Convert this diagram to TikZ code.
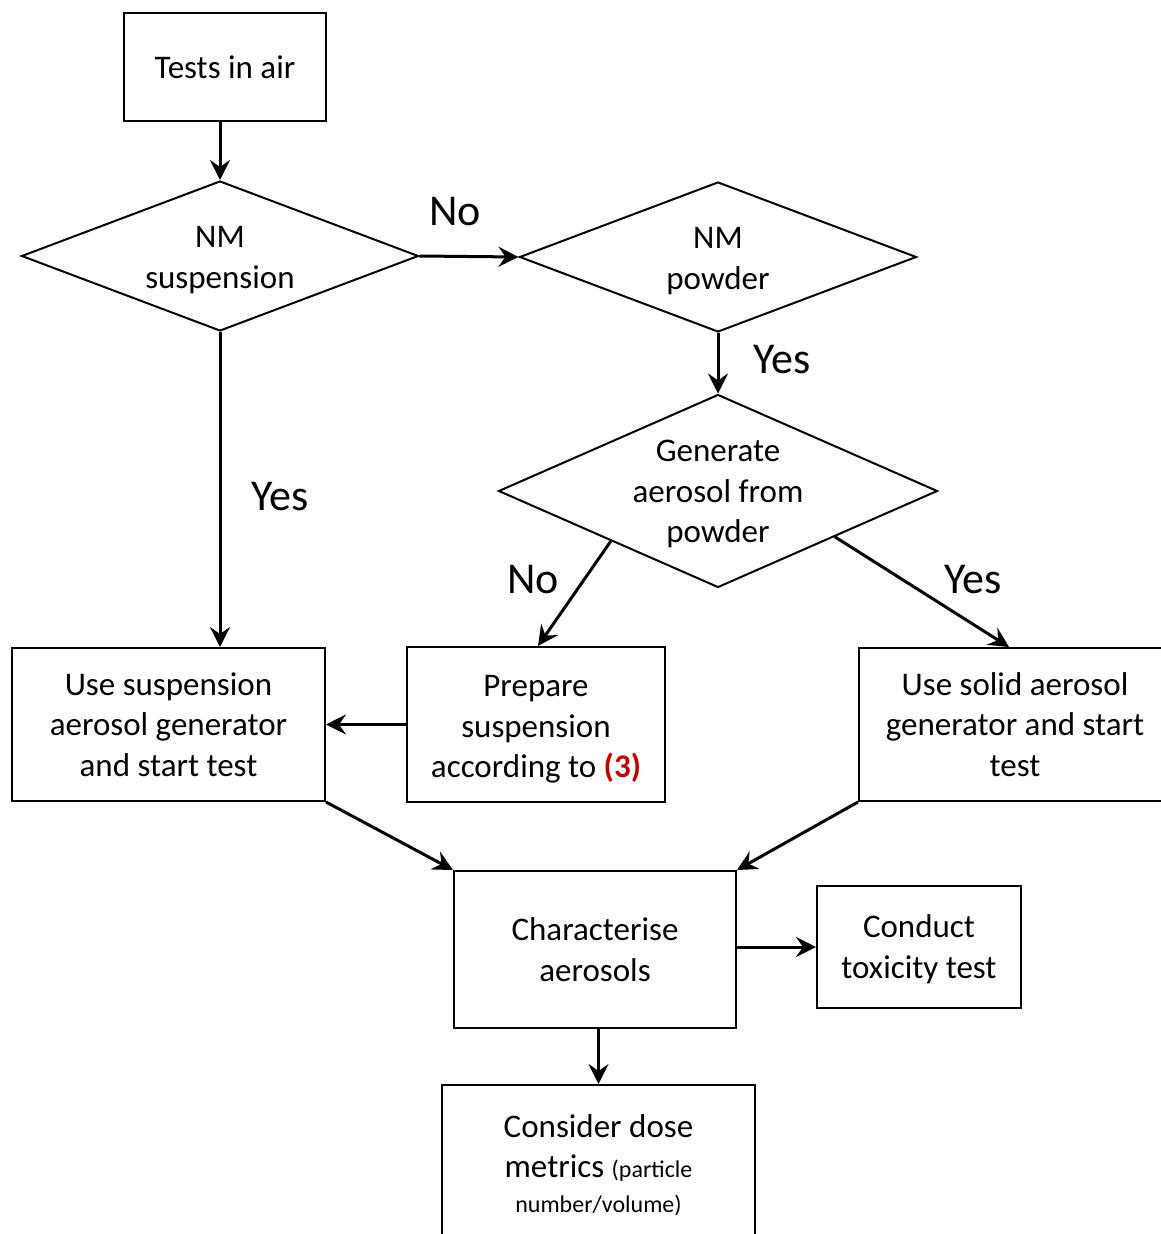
\documentclass[tikz,border=0pt]{standalone}
\usepackage{fontspec}
\setmainfont{Carlito}
\usetikzlibrary{shapes.geometric,arrows.meta,calc}
\definecolor{refred}{RGB}{192,0,0}
\tikzset{
  txt/.style={align=center, font=\fontsize{33}{40.5}\selectfont, inner sep=0pt},
  lbl/.style={font=\fontsize{44}{50}\selectfont, inner sep=0pt},
  boxnode/.style={draw, line width=2pt, rectangle, inner sep=0pt, align=center, font=\fontsize{33}{40.5}\selectfont},
  dia/.style={draw, line width=2pt, diamond, inner sep=0pt},
  arr/.style={line width=3pt, -{Stealth[length=20pt,width=20pt,inset=7pt]}},
}
\begin{document}
\begin{tikzpicture}[x=1pt,y=-1pt]
\useasboundingbox (0,0) rectangle (1161,1234);
\clip (0,0) rectangle (1161,1234);
\fill[white] (0,0) rectangle (1161,1234);
% boxes
\node[boxnode, minimum width=202pt, minimum height=108pt] (t1) at (225,67) {Tests in air};
\node[dia, minimum width=397pt, minimum height=150pt, label={[txt, yshift=-4pt]center:NM\\suspension}] (d1) at (220,256) {};
\node[dia, minimum width=397pt, minimum height=150pt, label={[txt, yshift=-4pt]center:NM\\powder}] (d2) at (718,257) {};
\node[dia, minimum width=439pt, minimum height=193pt, label={[txt, yshift=-3pt]center:Generate\\aerosol from\\powder}] (d3) at (718,491) {};
\node[boxnode, minimum width=313pt, minimum height=153pt] (b1) at (168.5,724.5) {Use suspension\\aerosol generator\\and start test};
\node[boxnode, minimum width=258pt, minimum height=155pt, label={[txt, yshift=-5pt]center:Prepare\\suspension\\according to {\bfseries\color{refred}(3)}}] (b2) at (536,724.5) {};
\node[boxnode, minimum width=312pt, minimum height=153pt] (b3) at (1015,724.5) {Use solid aerosol\\generator and start\\test};
\node[boxnode, minimum width=282pt, minimum height=157pt] (c) at (595,949.5) {Characterise\\aerosols};
\node[boxnode, minimum width=204pt, minimum height=122pt, label={[txt, yshift=-2pt]center:Conduct\\toxicity test}] (cd) at (919,947) {};
\node[boxnode, minimum width=313pt, minimum height=160pt] (cons) at (598.5,1165) {Consider dose\\metrics {\fontsize{24}{28}\selectfont (particle}\\[-6pt]{\fontsize{24}{28}\selectfont number/volume)}};
% connectors
\draw[arr] (d1.north |- t1.south) -- (d1.north);
\draw[arr] (d1.east) -- (d2.west);
\draw[arr] (d2.south) -- (d3.north);
\draw[arr] (d1.south) -- (d1.south |- b1.north);
\coordinate (d3l) at ($(d3.west)!0.514!(d3.south)$);
\coordinate (d3r) at ($(d3.south)!0.53!(d3.east)$);
\draw[arr] (d3l) -- ($(b2.north)+(2,0)$);
\draw[arr] (d3r) -- ($(b3.north)+(-6,0)$);
\draw[arr] (b2.west) -- (b1.east);
\draw[arr] (b1.south east) -- (c.north west);
\draw[arr] (b3.south west) -- (c.north east);
\draw[arr] ($(c.east)+(0,-2.5)$) -- (cd.west);
\draw[arr] (cons.north |- c.south) -- (cons.north);
% labels
\node[lbl] (lno1) at (455,212) {No};
\node[lbl] (lyes1) at (782,360) {Yes};
\node[lbl] (lyes2) at (280,497) {Yes};
\node[lbl] (lno2) at (533,580) {No};
\node[lbl] (lyes3) at (973,580) {Yes};
\end{tikzpicture}
\end{document}
